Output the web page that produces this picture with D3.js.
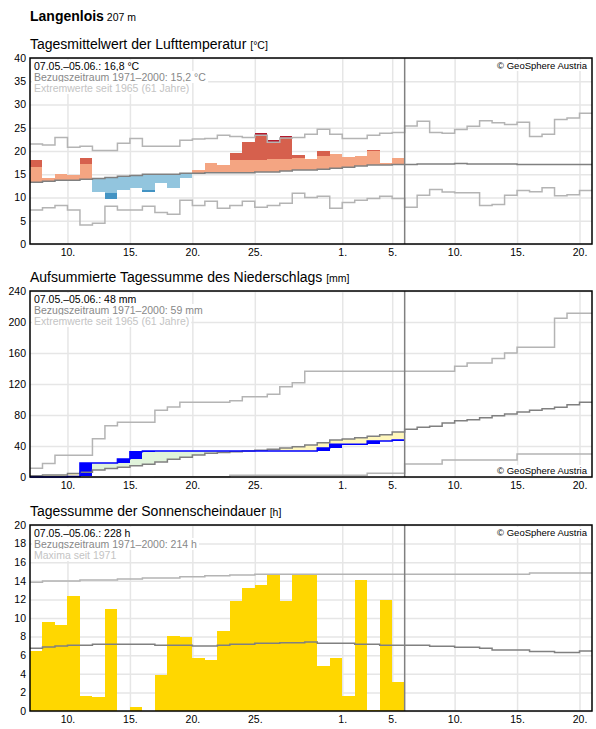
<!DOCTYPE html>
<html lang="de">
<head>
<meta charset="utf-8">
<title>Langenlois</title>
<script src="https://d3js.org/d3.v7.min.js"></script>
<style>
  html, body { margin: 0; padding: 0; background: #fff; }
  svg { display: block; font-family: "Liberation Sans", Arial, sans-serif; }
  .axis path { display: none; }
  .axis text { fill: #000; font-size: 10.5px; }
  .grid line { stroke: #e6e6e6; stroke-width: 1.5; }
  .grid path { display: none; }
  rect.day { shape-rendering: crispEdges; }
</style>
</head>
<body>
<svg id="chart" width="596" height="729"></svg>
<script>
// period 07.05.2025 - 20.06.2025, observations up to 05.06.
const startDate = new Date(Date.UTC(2025, 4, 7));
const tickDates = [
  [2025, 4, 10], [2025, 4, 15], [2025, 4, 20], [2025, 4, 25],
  [2025, 5, 1], [2025, 5, 5], [2025, 5, 10], [2025, 5, 15], [2025, 5, 20]
].map(d => new Date(Date.UTC(d[0], d[1], d[2])));

// Lufttemperatur (daily mean, °C)
const tempObs = [18.06, 14.2, 15.05, 14.85, 18.5, 11.25, 9.75, 11.7, 12.05, 11.25,
  13.2, 12.1, 14.27, 15.9, 17.4, 17.0, 19.57, 21.9, 23.87, 22.37,
  23.2, 19.1, 18.3, 20.0, 19.35, 18.7, 18.9, 20.2, 17.4, 18.5];
const tempUpper = [16.56, 17.0, 17.0, 17.1, 17.2, 17.3, 17.4, 17.6, 17.8, 18.0,
  18.0, 18.0, 18.1, 18.1, 18.2, 18.1, 18.06, 18.06, 18.06, 18.3,
  18.3, 18.5, 18.6, 18.9, 19.5, 19.3, 19.4, 20.0, 20.0, 20.1];
const tempLower = [10.0, 10.2, 10.4, 10.5, 10.7, 10.9, 10.97, 11.2, 11.4, 11.7,
  11.8, 11.9, 12.0, 12.1, 12.2, 12.3, 12.4, 12.5, 12.6, 12.7,
  12.8, 12.9, 13.0, 13.1, 13.2, 13.3, 13.4, 13.5, 13.6, 13.7];
const tempClim = [13.3, 13.5, 13.7, 13.7, 13.9, 14.1, 14.3, 14.55, 14.75, 15.0,
  15.0, 15.0, 15.2, 15.2, 15.3, 15.3, 15.3, 15.3, 15.5, 15.5,
  15.7, 15.9, 15.9, 16.1, 16.3, 16.5, 16.8, 17.0, 17.0, 17.1,
  17.1, 17.2, 17.2, 17.2, 17.3, 17.2, 17.2, 17.2, 17.2, 17.1,
  17.1, 17.1, 17.1, 17.1, 17.1];
const tempMax = [21.5, 21.3, 22.9, 20.8, 21.0, 20.1, 20.1, 21.65, 22.7, 21.0,
  21.0, 21.0, 22.3, 22.6, 22.7, 23.4, 23.1, 22.9, 23.4, 21.9,
  22.8, 22.9, 23.6, 24.7, 23.6, 22.7, 22.7, 23.4, 23.8, 24.0,
  25.4, 26.4, 24.0, 23.8, 24.6, 25.3, 26.5, 26.1, 25.7, 26.2,
  23.1, 23.6, 26.8, 27.1, 28.1];
const tempMin = [7.3, 7.8, 8.3, 7.3, 4.1, 4.45, 8.1, 7.3, 7.3, 8.1,
  6.8, 6.4, 9.4, 8.3, 9.2, 7.7, 8.3, 9.2, 7.9, 8.3,
  8.75, 10.9, 10.0, 10.25, 7.7, 8.95, 9.4, 9.8, 10.25, 9.8,
  7.9, 10.5, 11.7, 11.2, 11.0, 11.0, 8.3, 8.5, 10.5, 11.5,
  11.25, 12.1, 10.4, 10.6, 11.5];

// Niederschlag (cumulative, mm)
const precipObs = [0, 0, 0, 0.8, 18.1, 18.1, 18.1, 23.2, 32.7, 33.5,
  33.5, 33.5, 33.5, 33.5, 33.5, 33.5, 33.5, 33.5, 33.5, 33.5,
  33.5, 33.5, 33.5, 37.4, 42.2, 42.2, 42.2, 46.5, 46.5, 47.8];
const precipClim = [1.5, 2.7, 2.7, 4.6, 6.0, 9.0, 11.0, 12.7, 14.5, 16.5,
  19.5, 23.0, 25.5, 28.5, 30.5, 31.5, 32.7, 33.5, 34.5, 35.7,
  37.5, 39.1, 41.3, 44.3, 47.7, 49.0, 50.8, 52.5, 54.6, 58.0,
  61.5, 64.1, 65.4, 69.7, 72.7, 74.0, 76.6, 79.1, 81.3, 83.9,
  86.0, 88.2, 90.0, 93.3, 96.3];
const precipMax = [11.4, 17.5, 28, 28, 28, 49.5, 66, 70.5, 70.5, 70.5,
  86, 90.3, 96.3, 96.3, 96.3, 96.3, 98.5, 103.5, 103.5, 106.7,
  116.5, 121.7, 136.5, 136.5, 136.5, 136.5, 136.5, 136.5, 136.5, 136.5,
  136.5, 136.5, 136.5, 136.5, 142.8, 147, 147, 153, 160, 167.3,
  167.3, 167.3, 204.7, 211.2, 211.2];
const precipMin = [0, 0, 0, 0, 0, 0, 0, 0, 0, 0,
  0.4, 0.4, 0.4, 0.4, 0.4, 0.4, 2.3, 2.3, 2.3, 2.3,
  2.3, 2.3, 2.3, 2.3, 2.3, 2.3, 2.3, 4.8, 4.8, 4.8,
  16.8, 16.8, 16.8, 21.9, 21.9, 21.9, 21.9, 21.9, 21.9, 29.7,
  29.7, 29.7, 29.7, 29.7, 29.7];

// Sonnenscheindauer (h)
const sunObs = [6.45, 9.57, 9.25, 12.37, 1.6, 1.5, 10.97, 0, 0.43, 0,
  3.87, 8.06, 7.96, 5.7, 5.48, 8.6, 11.86, 13.2, 13.55, 14.62,
  11.86, 14.62, 14.62, 4.87, 5.7, 1.6, 14.1, 0.1, 11.94, 3.12];
const sunClim = [6.74, 6.88, 6.99, 7.06, 7.06, 7.17, 7.17, 7.17, 7.17, 7.17,
  7.06, 7.06, 7.06, 6.99, 6.99, 7.06, 7.17, 7.17, 7.28, 7.28,
  7.35, 7.35, 7.42, 7.28, 7.28, 7.28, 7.17, 7.17, 7.06, 7.06,
  7.06, 7.06, 6.96, 6.96, 6.85, 6.85, 6.74, 6.56, 6.56, 6.56,
  6.41, 6.41, 6.3, 6.3, 6.45];
const sunMax = [13.84, 13.98, 13.98, 13.98, 14.09, 14.09, 14.09, 14.19, 14.19, 14.3,
  14.3, 14.3, 14.44, 14.44, 14.55, 14.55, 14.62, 14.62, 14.7, 14.7,
  14.7, 14.7, 14.7, 14.7, 14.7, 14.7, 14.7, 14.7, 14.7, 14.7,
  14.7, 14.7, 14.7, 14.7, 14.7, 14.7, 14.7, 14.7, 14.7, 14.7,
  14.84, 14.84, 14.84, 14.84, 14.84];

const left = 30, right = 592, panelH = 186;
const days = d3.utcDays(startDate, d3.utcDay.offset(startDate, 46)); // 46 day starts
const splitDate = days[30];

const svg = d3.select('#chart');
const x = d3.scaleUtc().domain([days[0], days[45]]).range([left, right]);

// station header
const head = svg.append('text').attr('x', 30).attr('y', 21).attr('font-size', 14);
head.append('tspan').attr('font-weight', 'bold').text('Langenlois');
head.append('tspan').attr('font-size', 10.5).text(' 207 m');

function stepPath(values, y) {
  const pts = values.map((v, i) => [days[i], v]);
  pts.push([days[values.length], values[values.length - 1]]);
  return d3.line().x(d => x(d[0])).y(d => y(d[1])).curve(d3.curveStepAfter)(pts);
}

function makePanel(top, title, unit, maxV, step) {
  const y = d3.scaleLinear().domain([0, maxV]).range([top + panelH, top]);
  const g = svg.append('g');
  const t = svg.append('text').attr('x', 30).attr('y', top - 9).attr('font-size', 14).text(title + ' ');
  t.append('tspan').attr('font-size', 10.5).text(unit);

  const yTicks = d3.range(0, maxV + step / 2, step);
  g.append('g').attr('class', 'grid')
    .attr('transform', `translate(${left},0)`)
    .call(d3.axisLeft(y).tickValues(yTicks).tickSize(-(right - left)).tickFormat(''));
  g.append('g').attr('class', 'grid')
    .attr('transform', `translate(0,${top + panelH})`)
    .call(d3.axisBottom(x).tickValues(tickDates).tickSize(-panelH).tickFormat(''));

  const marks = svg.append('g');
  const over = svg.append('g');

  over.append('line')
    .attr('x1', x(splitDate)).attr('x2', x(splitDate))
    .attr('y1', top).attr('y2', top + panelH)
    .attr('stroke', '#808080').attr('stroke-width', 1.5);
  over.append('rect')
    .attr('x', left).attr('y', top).attr('width', right - left).attr('height', panelH)
    .attr('fill', 'none').attr('stroke', '#000').attr('stroke-width', 1.5);

  over.append('g').attr('class', 'axis')
    .attr('transform', `translate(${left},0)`)
    .call(d3.axisLeft(y).tickValues(yTicks).tickSize(0).tickPadding(4));
  over.append('g').attr('class', 'axis')
    .attr('transform', `translate(0,${top + panelH})`)
    .call(d3.axisBottom(x).tickValues(tickDates).tickSize(0).tickPadding(5)
      .tickFormat(d3.utcFormat('%-d.')));
  return { y, marks, over, top };
}

function boxedText(g, xPos, yPos, str, color, anchor, size) {
  const t = g.append('text').attr('x', xPos).attr('y', yPos)
    .attr('font-size', size || 10.5).attr('fill', color)
    .attr('text-anchor', anchor || 'start').text(str);
  const b = t.node().getBBox();
  g.insert('rect', () => t.node())
    .attr('x', b.x - 2).attr('y', b.y).attr('width', b.width + 4).attr('height', b.height)
    .attr('fill', '#fff');
}

function legend(p, lines) {
  const g = p.over.append('g');
  lines.forEach((l, k) => boxedText(g, 34, p.top + 12 + k * 11, l[0], l[1]));
}

function drawLine(p, values, color) {
  p.marks.append('path')
    .attr('d', stepPath(values, p.y))
    .attr('fill', 'none').attr('stroke', color).attr('stroke-width', 1.5);
}

function dayRect(p, i, v0, v1, color) {
  p.marks.append('rect').attr('class', 'day')
    .attr('x', x(days[i])).attr('width', x(days[i + 1]) - x(days[i]))
    .attr('y', p.y(Math.max(v0, v1)))
    .attr('height', Math.abs(p.y(v0) - p.y(v1)))
    .attr('fill', color);
}

// --- Panel 1: temperature
const p1 = makePanel(58, 'Tagesmittelwert der Lufttemperatur', '[°C]', 40, 5);
tempObs.forEach((v, i) => {
  const m = tempClim[i], hi = tempUpper[i], lo = tempLower[i], rec = tempMax[i];
  if (v >= m) {
    dayRect(p1, i, m, Math.min(v, hi), '#f4a582');
    if (v > hi) dayRect(p1, i, hi, Math.min(v, rec), '#d6604d');
    if (v > rec) dayRect(p1, i, rec, v, '#b2182b');
  } else {
    dayRect(p1, i, Math.max(v, lo), m, '#92c5de');
    if (v < lo) dayRect(p1, i, v, lo, '#4393c3');
  }
});
drawLine(p1, tempMax, '#b4b4b4');
drawLine(p1, tempMin, '#b4b4b4');
drawLine(p1, tempClim, '#808080');
legend(p1, [
  ['07.05.–05.06.: 16,8 °C', '#000'],
  ['Bezugszeitraum 1971–2000: 15,2 °C', '#888'],
  ['Extremwerte seit 1965 (61 Jahre)', '#c4c4c4']
]);
boxedText(p1.over, 587, 69, '© GeoSphere Austria', '#000', 'end', 9.5);

// --- Panel 2: precipitation
const p2 = makePanel(291, 'Aufsummierte Tagessumme des Niederschlags', '[mm]', 240, 40);
precipObs.forEach((v, i) => {
  const c = precipClim[i];
  if (v !== c) dayRect(p2, i, v, c, v > c ? '#e0f3db' : '#fff7bc');
});
precipObs.forEach((v, i) => {
  const prev = i > 0 ? precipObs[i - 1] : 0;
  if (v > prev) dayRect(p2, i, prev, v, '#0000ff');
});
drawLine(p2, precipMax, '#b4b4b4');
drawLine(p2, precipMin, '#b4b4b4');
drawLine(p2, precipClim, '#808080');
drawLine(p2, precipObs, '#0000ff');
legend(p2, [
  ['07.05.–05.06.: 48 mm', '#000'],
  ['Bezugszeitraum 1971–2000: 59 mm', '#888'],
  ['Extremwerte seit 1965 (61 Jahre)', '#c4c4c4']
]);
boxedText(p2.over, 587, 474, '© GeoSphere Austria', '#000', 'end', 9.5);

// --- Panel 3: sunshine
const p3 = makePanel(525, 'Tagessumme der Sonnenscheindauer', '[h]', 20, 2);
sunObs.forEach((v, i) => { if (v > 0) dayRect(p3, i, 0, v, '#ffd700'); });
drawLine(p3, sunMax, '#b4b4b4');
drawLine(p3, sunClim, '#808080');
legend(p3, [
  ['07.05.–05.06.: 228 h', '#000'],
  ['Bezugszeitraum 1971–2000: 214 h', '#888'],
  ['Maxima seit 1971', '#c4c4c4']
]);
boxedText(p3.over, 587, 536, '© GeoSphere Austria', '#000', 'end', 9.5);
</script>
</body>
</html>
